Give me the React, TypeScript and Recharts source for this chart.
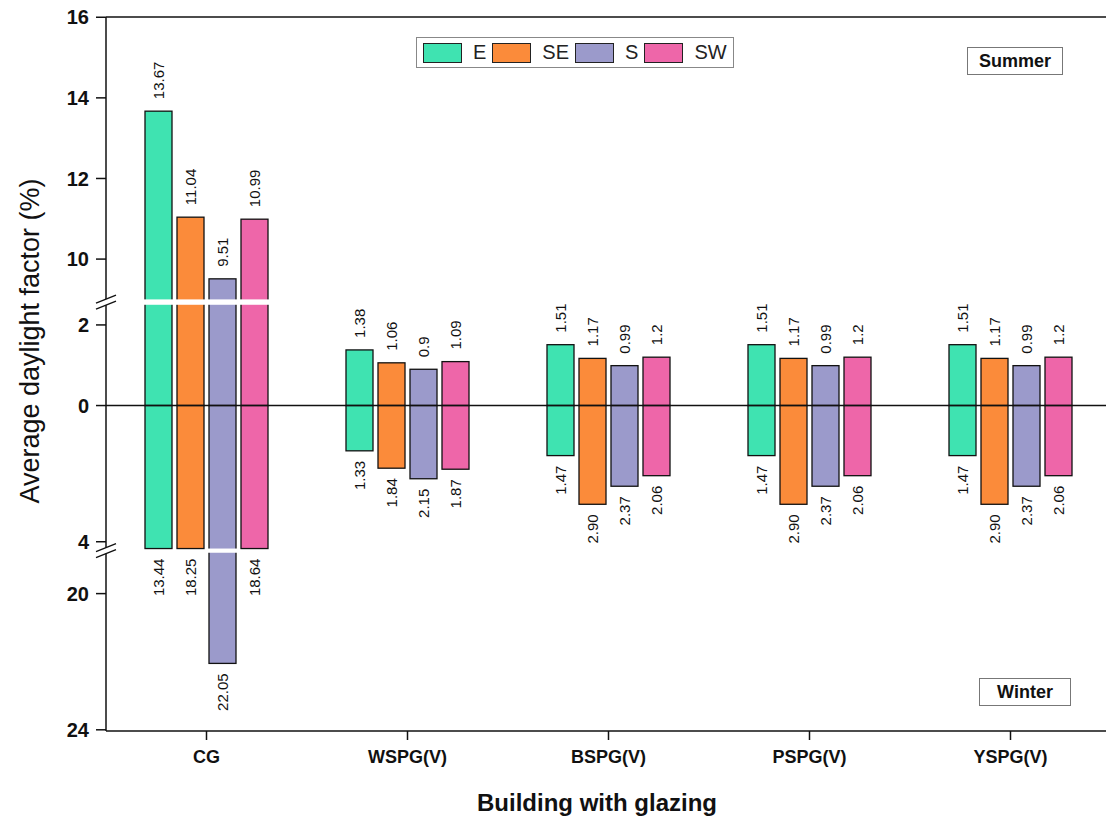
import React from 'react';
import { BarChart, Bar, XAxis, YAxis, ReferenceLine, Legend, LabelList } from 'recharts';

const FONT = 'Arial, "Liberation Sans", Helvetica, sans-serif';

const buildings = ['CG', 'WSPG(V)', 'BSPG(V)', 'PSPG(V)', 'YSPG(V)'];
const orientations = ['E', 'SE', 'S', 'SW'];
const colors = ['#3fe3b1', '#fb8b3a', '#9b9acb', '#ee66a9'];

// summer daylight factor (%), one value per building
const summerE = [13.67, 1.38, 1.51, 1.51, 1.51];
const summerSE = [11.04, 1.06, 1.17, 1.17, 1.17];
const summerS = [9.51, 0.9, 0.99, 0.99, 0.99];
const summerSW = [10.99, 1.09, 1.2, 1.2, 1.2];

// winter daylight factor (%), drawn downward
const winterE = [13.44, 1.33, 1.47, 1.47, 1.47];
const winterSE = [18.25, 1.84, 2.9, 2.9, 2.9];
const winterS = [22.05, 2.15, 2.37, 2.37, 2.37];
const winterSW = [18.64, 1.87, 2.06, 2.06, 2.06];

const summerTicks = [0, 2, 10, 12, 14, 16];
const winterTicks = [4, 20, 24];

const summer = [summerE, summerSE, summerS, summerSW];
const winter = [winterE, winterSE, winterS, winterSW];

// broken axis: each side is a list of visible segments, values past a
// segment's end are clipped to it until the next segment starts
type Side = { unit: number; segs: { lo: number; hi: number; at: number }[] };
const SUMMER: Side = { unit: 40.25, segs: [{ lo: 0, hi: 2.5, at: 0 }, { lo: 9, hi: 16, at: 106 }] };
const WINTER: Side = { unit: 34, segs: [{ lo: 0, hi: 4.2, at: 0 }, { lo: 18.8, hi: 24, at: 147 }] };

const toAxis = (v: number, side: Side) => {
  let out = 0;
  for (const s of side.segs) {
    if (v >= s.lo) out = s.at + (Math.min(v, s.hi) - s.lo) * side.unit;
  }
  return out;
};

const gapOf = (side: Side) => [
  side.segs[0].at + (side.segs[0].hi - side.segs[0].lo) * side.unit,
  side.segs[1].at,
];
const summerGap = gapOf(SUMMER);
const winterGap = gapOf(WINTER).map((v) => -v);
const breakTicks = [(summerGap[0] + summerGap[1]) / 2, (winterGap[0] + winterGap[1]) / 2];

const tickLabels = new Map<number, string>();
summerTicks.forEach((v) => tickLabels.set(toAxis(v, SUMMER), String(v)));
winterTicks.forEach((v) => tickLabels.set(-toAxis(v, WINTER), String(v)));
const yTicks = [...tickLabels.keys(), ...breakTicks].sort((a, b) => a - b);

const rows = buildings.map((name, i) => {
  const row: Record<string, any> = { name };
  orientations.forEach((o, k) => {
    row[`${o}_s`] = toAxis(summer[k][i], SUMMER);
    row[`${o}_w`] = -toAxis(winter[k][i], WINTER);
    row[`${o}_sv`] = summer[k][i];
    row[`${o}_wv`] = winter[k][i];
  });
  return row;
});

// bar with a white gap where it passes an axis break
const BrokenBar = (props: any) => {
  const { x, y, width, height, fill, t } = props;
  const top = Math.min(y, y + height);
  const h = Math.abs(height);
  if (!h) return null;
  const px = (p: number) => (t > 0 ? top + h - (p / t) * h : top + (p / t) * h);
  const gaps: number[][] = [];
  if (t > summerGap[1]) gaps.push(summerGap);
  if (t < winterGap[1]) gaps.push(winterGap);
  return (
    <g>
      <rect x={x} y={top} width={width} height={h} fill={fill} stroke="#111" strokeWidth={1.3} />
      {gaps.map((g, i) => {
        const a = px(g[0]);
        const b = px(g[1]);
        return (
          <rect key={i} x={x - 2} y={Math.min(a, b)} width={width + 4} height={Math.abs(b - a)} fill="#fff" />
        );
      })}
    </g>
  );
};

const SummerLabel = (props: any) => {
  const { x, y, width, height, value } = props;
  const cx = x + width / 2;
  const ty = Math.min(y, y + height) - 12;
  return (
    <text x={cx} y={ty} transform={`rotate(-90 ${cx} ${ty})`} textAnchor="start" dy="0.35em"
      fontSize={15} fontFamily={FONT} fill="#111">
      {String(value)}
    </text>
  );
};

const WinterLabel = (props: any) => {
  const { x, y, width, height, value } = props;
  const cx = x + width / 2;
  const ty = Math.max(y, y + height) + 10;
  return (
    <text x={cx} y={ty} transform={`rotate(-90 ${cx} ${ty})`} textAnchor="end" dy="0.35em"
      fontSize={15} fontFamily={FONT} fill="#111">
      {Number(value).toFixed(2)}
    </text>
  );
};

const YTick = (props: any) => {
  const { x, y, payload } = props;
  const label = tickLabels.get(payload.value);
  if (label === undefined) {
    // axis break mark
    return (
      <g>
        <rect x={x - 3} y={y - 3} width={6} height={6} fill="#fff" />
        <line x1={x - 10} y1={y + 1} x2={x + 10} y2={y - 7} stroke="#111" strokeWidth={1.5} />
        <line x1={x - 10} y1={y + 7} x2={x + 10} y2={y - 1} stroke="#111" strokeWidth={1.5} />
      </g>
    );
  }
  return (
    <g>
      <line x1={x - 10} y1={y} x2={x} y2={y} stroke="#111" strokeWidth={1.5} />
      <text x={x - 17} y={y} dy="0.36em" textAnchor="end" fontSize={20} fontWeight="bold"
        fontFamily={FONT} fill="#111">
        {label}
      </text>
    </g>
  );
};

const XTick = (props: any) => {
  const { x, y, payload } = props;
  return (
    <text x={x} y={y} dy={21} textAnchor="middle" fontSize={18} fontWeight="bold" fontFamily={FONT} fill="#111">
      {payload.value}
    </text>
  );
};

const LegendBox = (props: any) => {
  const items = (props.payload || [])
    .filter((p: any) => orientations.includes(p.value))
    .sort((a: any, b: any) => orientations.indexOf(a.value) - orientations.indexOf(b.value));
  return (
    <div style={{ display: 'flex', alignItems: 'center', border: '1px solid #888', background: '#fff',
      height: 29, padding: '0 4px 0 6px', fontFamily: FONT, fontSize: 20, color: '#222' }}>
      {items.map((p: any) => (
        <div key={p.value} style={{ display: 'flex', alignItems: 'center', marginRight: 6 }}>
          <span style={{ width: 37, height: 18, background: p.color, border: '1.3px solid #222', marginRight: 11 }} />
          <span>{p.value}</span>
        </div>
      ))}
    </div>
  );
};

const seasonBox: React.CSSProperties = {
  position: 'absolute', border: '1px solid #777', background: '#fff', fontFamily: FONT,
  fontWeight: 'bold', fontSize: 18, color: '#111', display: 'flex', alignItems: 'center',
  justifyContent: 'center', boxSizing: 'border-box',
};

export default function App() {
  return (
    <div style={{ position: 'absolute', left: 0, top: 0, width: 1106, height: 820, overflow: 'hidden', background: '#fff' }}>
      <BarChart width={1111} height={820} data={rows} stackOffset="sign" barSize={27} barGap={5}
        margin={{ top: 17, right: 0, bottom: 0, left: 0 }}>
        <XAxis dataKey="name" height={89} tick={<XTick />} tickSize={9} tickMargin={2}
          axisLine={{ stroke: '#111', strokeWidth: 1.5 }} tickLine={{ stroke: '#111', strokeWidth: 1.5 }}
          label={() => (
            <text x={597} y={811} textAnchor="middle" fontSize={24} fontWeight="bold" fontFamily={FONT} fill="#111">
              Building with glazing
            </text>
          )} />
        <YAxis type="number" width={106} domain={[-325, 388]} ticks={yTicks} interval={0}
          tick={<YTick />} tickSize={0} tickMargin={0} tickLine={false}
          axisLine={{ stroke: '#111', strokeWidth: 1.5 }}
          label={() => (
            <text x={30} y={341} transform="rotate(-90 30 341)" textAnchor="middle" dy="0.35em"
              fontSize={27} fontFamily={FONT} fill="#111">
              Average daylight factor (%)
            </text>
          )} />
        <Legend layout="horizontal" verticalAlign="middle" align="center" content={<LegendBox />}
          wrapperStyle={{ top: 37, left: 416, width: 318 }} />
        {orientations.map((o, k) => (
          <Bar key={`${o}_s`} dataKey={`${o}_s`} name={o} stackId={o} fill={colors[k]}
            isAnimationActive={false}
            shape={(p: any) => <BrokenBar {...p} t={p.payload[`${o}_s`]} />}>
            <LabelList dataKey={`${o}_sv`} content={<SummerLabel />} />
          </Bar>
        ))}
        {orientations.map((o, k) => (
          <Bar key={`${o}_w`} dataKey={`${o}_w`} name={`${o} winter`} stackId={o} fill={colors[k]}
            legendType="none" isAnimationActive={false}
            shape={(p: any) => <BrokenBar {...p} t={p.payload[`${o}_w`]} />}>
            <LabelList dataKey={`${o}_wv`} content={<WinterLabel />} />
          </Bar>
        ))}
        <ReferenceLine y={0} stroke="#111" strokeWidth={1.5} />
        <ReferenceLine y={388} stroke="#111" strokeWidth={1.5} />
      </BarChart>
      <div style={{ ...seasonBox, left: 967, top: 47, width: 96, height: 28 }}>Summer</div>
      <div style={{ ...seasonBox, left: 979, top: 678, width: 92, height: 28 }}>Winter</div>
    </div>
  );
}
